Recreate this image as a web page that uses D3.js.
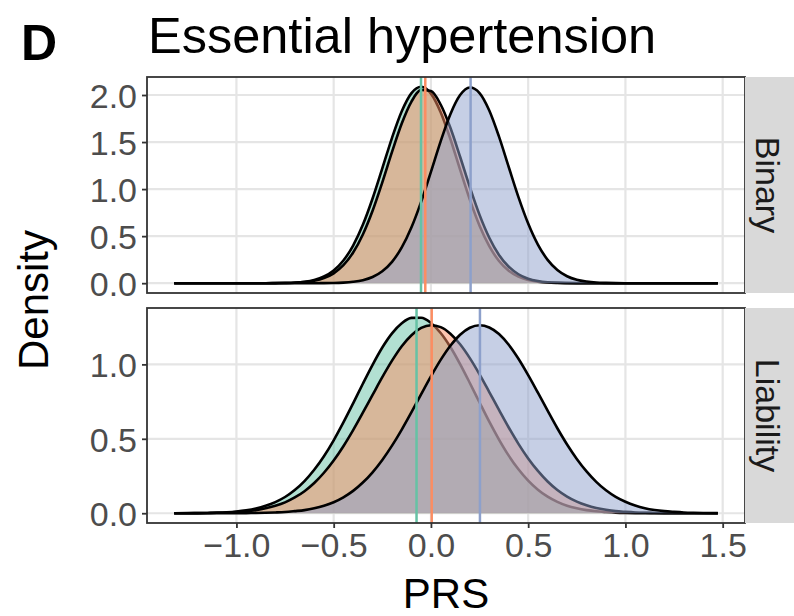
<!DOCTYPE html>
<html>
<head>
<meta charset="utf-8">
<script src="https://cdn.jsdelivr.net/npm/d3@7"></script>
<style>
  body { margin: 0; background: #fff; }
  svg { font-family: "Liberation Sans", Arial, Helvetica, sans-serif; }
</style>
</head>
<body>
<div id="app"></div>
<script>
// PRS grid the densities were read at
const prs = [-1.32, -1.25, -1.2, -1.15, -1.1, -1.05, -1.0, -0.95, -0.9, -0.85,
  -0.8, -0.75, -0.7, -0.65, -0.6, -0.55, -0.5, -0.45, -0.4, -0.35,
  -0.3, -0.25, -0.2, -0.15, -0.1, -0.05, 0.0, 0.05, 0.1, 0.15,
  0.2, 0.25, 0.3, 0.35, 0.4, 0.45, 0.5, 0.55, 0.6, 0.65,
  0.7, 0.75, 0.8, 0.85, 0.9, 0.95, 1.0, 1.05, 1.1, 1.15,
  1.2, 1.25, 1.3, 1.35, 1.4, 1.475];

// Binary facet
const binaryGreen = [0, 0, 0, 0, 0, 0, 0, 0, 0, 0,
  0.001, 0.003, 0.007, 0.016, 0.035, 0.071, 0.135, 0.241, 0.400, 0.620,
  0.900, 1.220, 1.545, 1.827, 2.020, 2.087, 2.015, 1.817, 1.532, 1.206,
  0.888, 0.611, 0.393, 0.236, 0.132, 0.069, 0.034, 0.016, 0.007, 0.003,
  0.001, 0, 0, 0, 0, 0, 0, 0, 0, 0,
  0, 0, 0, 0, 0, 0];
const binaryOrange = [0, 0, 0, 0, 0, 0, 0, 0, 0, 0,
  0.001, 0.002, 0.005, 0.012, 0.026, 0.054, 0.105, 0.191, 0.326, 0.518,
  0.770, 1.072, 1.395, 1.697, 1.930, 2.053, 2.042, 1.899, 1.652, 1.344,
  1.021, 0.726, 0.483, 0.300, 0.175, 0.095, 0.048, 0.023, 0.010, 0.004,
  0.002, 0.001, 0, 0, 0, 0, 0, 0, 0, 0,
  0, 0, 0, 0, 0, 0];
const binaryBlue = [0, 0, 0, 0, 0, 0, 0, 0, 0, 0,
  0, 0, 0, 0, 0, 0.001, 0.002, 0.006, 0.015, 0.032,
  0.066, 0.127, 0.227, 0.380, 0.594, 0.867, 1.183, 1.508, 1.796, 1.999,
  2.080, 2.021, 1.836, 1.558, 1.235, 0.915, 0.634, 0.410, 0.248, 0.140,
  0.074, 0.036, 0.017, 0.007, 0.003, 0.001, 0, 0, 0, 0,
  0, 0, 0, 0, 0, 0];

// Liability facet
const liabilityGreen = [0, 0.001, 0.001, 0.002, 0.004, 0.007, 0.012, 0.020, 0.032, 0.050,
  0.075, 0.109, 0.156, 0.216, 0.292, 0.383, 0.490, 0.610, 0.738, 0.870,
  0.997, 1.113, 1.208, 1.276, 1.312, 1.313, 1.278, 1.211, 1.117, 1.002,
  0.875, 0.744, 0.615, 0.495, 0.387, 0.295, 0.219, 0.158, 0.111, 0.076,
  0.050, 0.033, 0.021, 0.013, 0.008, 0.004, 0.002, 0.001, 0.001, 0,
  0, 0, 0, 0, 0, 0];
const liabilityOrange = [0, 0, 0.001, 0.002, 0.003, 0.005, 0.008, 0.013, 0.021, 0.033,
  0.050, 0.073, 0.106, 0.148, 0.203, 0.272, 0.354, 0.450, 0.558, 0.675,
  0.795, 0.914, 1.025, 1.122, 1.196, 1.245, 1.263, 1.250, 1.206, 1.135,
  1.042, 0.933, 0.814, 0.694, 0.576, 0.466, 0.368, 0.284, 0.213, 0.156,
  0.112, 0.078, 0.053, 0.035, 0.023, 0.014, 0.009, 0.005, 0.003, 0.002,
  0.001, 0, 0, 0, 0, 0];
const liabilityBlue = [0, 0, 0, 0, 0, 0, 0, 0.001, 0.002, 0.003,
  0.005, 0.008, 0.014, 0.021, 0.033, 0.050, 0.074, 0.107, 0.150, 0.206,
  0.275, 0.358, 0.454, 0.562, 0.679, 0.800, 0.919, 1.030, 1.125, 1.199,
  1.246, 1.263, 1.248, 1.204, 1.132, 1.038, 0.928, 0.810, 0.689, 0.571,
  0.462, 0.365, 0.281, 0.211, 0.154, 0.110, 0.077, 0.052, 0.034, 0.022,
  0.014, 0.009, 0.005, 0.003, 0.002, 0.001];

// group means (vertical lines)
const binaryMeans = [-0.051, -0.029, 0.204];
const liabilityMeans = [-0.074, 0.004, 0.252];

const facets = ["Binary", "Liability"];
const xTicks = [-1.0, -0.5, 0.0, 0.5, 1.0, 1.5];
const binaryTicks = [0, 0.5, 1.0, 1.5, 2.0];
const liabilityTicks = [0, 0.5, 1.0];
const colors = ["#66c2a5", "#fc8d62", "#8da0cb"];

const panels = [
  { name: facets[0], series: [binaryGreen, binaryOrange, binaryBlue], means: binaryMeans, ticks: binaryTicks, top: 77, bottom: 293 },
  { name: facets[1], series: [liabilityGreen, liabilityOrange, liabilityBlue], means: liabilityMeans, ticks: liabilityTicks, top: 308, bottom: 523 }
];

const width = 794;
const height = 616;
const left = 147;
const right = 745;

const svg = d3.select('#app')
  .append('svg')
  .attr('width', width)
  .attr('height', height);

// x scale: data range plus ggplot's 5% expansion
const ext = d3.extent(prs);
const pad = (ext[1] - ext[0]) * 0.05;
const x = d3.scaleLinear()
  .domain([ext[0] - pad, ext[1] + pad])
  .range([left, right]);

const fmt = d3.format(".1f");

panels.forEach(p => {
  const ymax = d3.max(p.series, s => d3.max(s));
  const y = d3.scaleLinear()
    .domain([-0.05 * ymax, 1.05 * ymax])
    .range([p.bottom, p.top]);

  const g = svg.append('g');

  g.append('rect')
    .attr('x', left).attr('y', p.top)
    .attr('width', right - left).attr('height', p.bottom - p.top)
    .attr('fill', '#fff');

  // grid
  g.selectAll('.vgrid').data(xTicks).enter().append('line')
    .attr('x1', d => x(d)).attr('x2', d => x(d))
    .attr('y1', p.top).attr('y2', p.bottom)
    .attr('stroke', '#e5e5e5').attr('stroke-width', 2.2);
  g.selectAll('.hgrid').data(p.ticks).enter().append('line')
    .attr('x1', left).attr('x2', right)
    .attr('y1', d => y(d)).attr('y2', d => y(d))
    .attr('stroke', '#e5e5e5').attr('stroke-width', 2.2);

  const area = d3.area()
    .x((d, i) => x(prs[i]))
    .y0(y(0))
    .y1(d => y(d))
    .curve(d3.curveMonotoneX);
  const line = d3.line()
    .x((d, i) => x(prs[i]))
    .y(d => y(d))
    .curve(d3.curveMonotoneX);

  p.series.forEach((s, k) => {
    g.append('path').datum(s)
      .attr('d', area)
      .attr('fill', colors[k])
      .attr('fill-opacity', 0.5);
    g.append('path').datum(s)
      .attr('d', line)
      .attr('fill', 'none')
      .attr('stroke', '#000')
      .attr('stroke-width', 2.6);
  });

  // mean lines
  g.selectAll('.mean').data(p.means).enter().append('line')
    .attr('x1', d => x(d)).attr('x2', d => x(d))
    .attr('y1', p.top).attr('y2', p.bottom)
    .attr('stroke', (d, i) => colors[i])
    .attr('stroke-width', 2.5);

  // border
  g.append('rect')
    .attr('x', left).attr('y', p.top)
    .attr('width', right - left).attr('height', p.bottom - p.top)
    .attr('fill', 'none')
    .attr('stroke', '#333').attr('stroke-width', 1.8);

  // y axis
  const ay = g.append('g')
    .attr('transform', `translate(${left},0)`)
    .call(d3.axisLeft(y).tickValues(p.ticks).tickFormat(fmt).tickSize(5).tickPadding(5));
  ay.select('.domain').remove();
  ay.selectAll('line').attr('stroke', '#333').attr('stroke-width', 1.8);
  ay.selectAll('text').attr('fill', '#4d4d4d').style('font-size', '34px').attr('dy', '0.36em');

  // strip
  g.append('rect')
    .attr('x', right).attr('y', p.top)
    .attr('width', 60).attr('height', p.bottom - p.top)
    .attr('fill', '#d9d9d9');
  g.append('text')
    .attr('transform', `translate(${right + 23},${(p.top + p.bottom) / 2}) rotate(90)`)
    .attr('text-anchor', 'middle')
    .attr('dy', '0.35em')
    .attr('fill', '#1a1a1a')
    .style('font-size', '34px')
    .text(p.name);

  if (p === panels[1]) {
    const ax = g.append('g')
      .attr('transform', `translate(0,${p.bottom})`)
      .call(d3.axisBottom(x).tickValues(xTicks).tickFormat(fmt).tickSize(5).tickPadding(5));
    ax.select('.domain').remove();
    ax.selectAll('line').attr('stroke', '#333').attr('stroke-width', 1.8);
    ax.selectAll('text').attr('fill', '#4d4d4d').style('font-size', '34px').attr('dy', '0.72em');
  }
});

// titles
svg.append('text')
  .attr('x', (left + right) / 2).attr('y', 608)
  .attr('text-anchor', 'middle')
  .style('font-size', '42px')
  .text('PRS');

svg.append('text')
  .attr('transform', `translate(48,${(77 + 523) / 2}) rotate(-90)`)
  .attr('text-anchor', 'middle')
  .style('font-size', '42px')
  .text('Density');

svg.append('text')
  .attr('x', 148).attr('y', 53)
  .style('font-size', '50.5px')
  .text('Essential hypertension');

svg.append('text')
  .attr('x', 21).attr('y', 60)
  .style('font-size', '50px')
  .style('font-weight', 'bold')
  .text('D');
</script>
</body>
</html>
